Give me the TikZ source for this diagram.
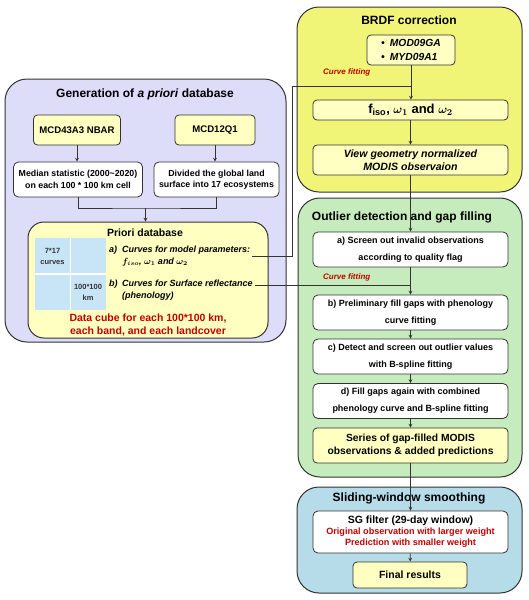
\documentclass[tikz,border=0pt]{standalone}
\usepackage{fontspec}
\setmainfont{Liberation Sans}
\usepackage{amsmath}
\usetikzlibrary{positioning, shapes, arrows, calc}
\definecolor{lavender}{HTML}{DDDDFA}
\definecolor{paleyellow}{HTML}{FFFFC2}
\definecolor{brdfyellow}{HTML}{F1F577}
\definecolor{leafgreen}{HTML}{C6EBBC}
\definecolor{skyblue}{HTML}{B5DCE8}
\definecolor{cellblue}{HTML}{C8E5F8}
\definecolor{darkred}{HTML}{C00000}
\definecolor{edge}{HTML}{333333}

\begin{document}
\begin{tikzpicture}[x=1pt, y=-1pt,
  group/.style={draw=edge, line width=1pt, rounded corners=22pt},
  title/.style={font=\bfseries\fontsize{12}{14}\selectfont, inner sep=1pt},
  src/.style={draw=edge, fill=paleyellow, line width=0.8pt, rounded corners=4pt,
              align=center, inner sep=1pt, font=\bfseries\fontsize{9.6}{12}\selectfont},
  stepbox/.style={draw=edge, fill=white, line width=0.8pt, rounded corners=5pt,
              align=center, inner sep=1pt, minimum width=195pt, minimum height=35pt,
              font=\bfseries\fontsize{9}{17}\selectfont},
  note/.style={text=darkred, font=\bfseries\itshape\fontsize{8}{9}\selectfont,
              anchor=west, inner sep=0pt},
  item/.style={anchor=west, align=left, inner sep=2pt,
              font=\bfseries\itshape\fontsize{9}{12}\selectfont\boldmath},
  cell/.style={align=center, text=black!80, font=\bfseries\fontsize{7.5}{11}\selectfont},
  arr/.style={->, >=stealth, draw=edge, line width=0.7pt},
  link/.style={draw=edge, line width=0.7pt}
]
\useasboundingbox (0,0) rectangle (528,600);

% generation of a priori database
\node[group, fill=lavender, minimum width=281pt, minimum height=263pt] (grpL) at (145.5,210.5) {};
\node[title] (titleL) at (145,94) {Generation of \textit{a priori} database};
\node[src, minimum width=87pt, minimum height=30pt] (nbar) at (77,130) {MCD43A3 NBAR};
\node[src, minimum width=80pt, minimum height=30pt] (mcd12) at (215,130) {MCD12Q1};
\node[stepbox, minimum width=129pt, font=\bfseries\fontsize{8.8}{11.5}\selectfont] (median) at (78,179.5)
  {Median statistic (2000\textasciitilde2020)\\on each 100 * 100 km cell};
\node[stepbox, minimum width=125pt, font=\bfseries\fontsize{8.8}{11.5}\selectfont] (divided) at (216.5,179.5)
  {Divided the global land\\surface into 17 ecosystems};
\coordinate (merge) at (145.5,208);

\node[group, fill=paleyellow, rounded corners=16pt, minimum width=240pt, minimum height=116pt] (priori) at (148,280) {};
\node[title, font=\bfseries\fontsize{10.5}{12}\selectfont] (prioriTitle) at (145,233) {Priori database};
\fill[cellblue] (35,238) rectangle (106,310);
\draw[white, line width=1.2pt] (70.5,238) -- (70.5,310) (35,274) -- (106,274);
\node[cell] (cellA) at (52.5,256) {7*17\\curves};
\node[cell] (cellB) at (88,292) {100*100\\km};
\node[item] (labA) at (107,250) {a)};
\node[item] (parA) at (120,256) {Curves for model parameters:\\$f_{iso}$, $\omega_1$ and $\omega_2$};
\node[item] (labB) at (107,284) {b)};
\node[item] (parB) at (120,290) {Curves for Surface reflectance\\(phenology)};
\node[text=darkred, align=center, font=\bfseries\fontsize{10.5}{13}\selectfont] (cube) at (148,325.5)
  {Data cube for each 100*100 km,\\each band, and each landcover};

% BRDF correction
\node[group, fill=brdfyellow, minimum width=225pt, minimum height=185pt] (grpB) at (409.5,99.5) {};
\node[title] (titleB) at (409,20) {BRDF correction};
\node[src, minimum width=88pt, minimum height=30pt, align=left,
      font=\bfseries\itshape\fontsize{10.3}{14}\selectfont] (mod) at (411,50)
  {\textbullet\enspace MOD09GA\\\textbullet\enspace MYD09A1};
\node[note] (cf1) at (323,72) {Curve fitting};
\node[src, minimum width=195pt, minimum height=20pt,
      font=\bfseries\fontsize{13}{14}\selectfont\boldmath] (fiso) at (410.5,110)
  {$\mathrm{f_{iso}}$, $\omega_1$ and $\omega_2$};
\node[src, minimum width=195pt, minimum height=30pt,
      font=\bfseries\itshape\fontsize{10.6}{13}\selectfont] (view) at (410.5,160)
  {View geometry normalized\\MODIS observaion};
\coordinate (cfA) at (411,86);
\coordinate (bendA) at (292,86);

% outlier detection and gap filling
\node[group, fill=leafgreen, minimum width=224pt, minimum height=279pt] (grpO) at (410,337.5) {};
\node[title] (titleO) at (402,217) {Outlier detection and gap filling};
\node[stepbox] (sa) at (410.5,249.5) {a) Screen out invalid observations\\according to quality flag};
\node[note] (cf2) at (323,277) {Curve fitting};
\node[stepbox] (sb) at (410.5,312.5) {b) Preliminary fill gaps with phenology\\curve fitting};
\node[stepbox] (sc) at (410.5,356.5) {c) Detect and screen out outlier values\\with B-spline fitting};
\node[stepbox] (sd) at (410.5,401) {d) Fill gaps again with combined\\phenology curve and B-spline fitting};
\node[src, minimum width=195pt, minimum height=35pt, font=\bfseries\fontsize{10.3}{13}\selectfont] (series) at (410.5,445.5)
  {Series of gap-filled MODIS\\observations \& added predictions};
\coordinate (cfB) at (410.5,285);

% sliding-window smoothing
\node[group, fill=skyblue, minimum width=225pt, minimum height=106pt] (grpS) at (409.5,540) {};
\node[title] (titleS) at (409,498) {Sliding-window smoothing};
\node[stepbox, minimum height=42pt, font=\bfseries\fontsize{9.1}{11}\selectfont] (sg) at (410.5,532)
  {{\fontsize{10.5}{12}\selectfont SG filter (29-day window)}\\
   \textcolor{darkred}{Original observation with larger weight}\\
   \textcolor{darkred}{Prediction with smaller weight}};
\node[src, minimum width=114pt, minimum height=26pt, font=\bfseries\fontsize{10.5}{12}\selectfont] (final) at (410,575) {Final results};

% connectors
\draw[arr] (nbar.south) -- (nbar.south |- median.north);
\draw[arr] (mcd12.south) -- (mcd12.south |- divided.north);
\draw[link] (median.south) |- (merge) -| (divided.south);
\draw[arr] (merge) -- (merge |- priori.north);
\draw[arr] (mod.south) -- (mod.south |- fiso.north);
\draw[link] (parA.east) -| (bendA) -- (cfA);
\draw[arr] (fiso) -- (view);
\draw[arr] (view) -- (sa);
\draw[link] (parB.east |- cfB) -- (cfB);
\draw[arr] (sa) -- (sb);
\draw[arr] (sb) -- (sc);
\draw[arr] (sc) -- (sd);
\draw[arr] (sd) -- (series);
\draw[arr] (series) -- (sg);
\draw[arr] (sg) -- (final);
\end{tikzpicture}
\end{document}
